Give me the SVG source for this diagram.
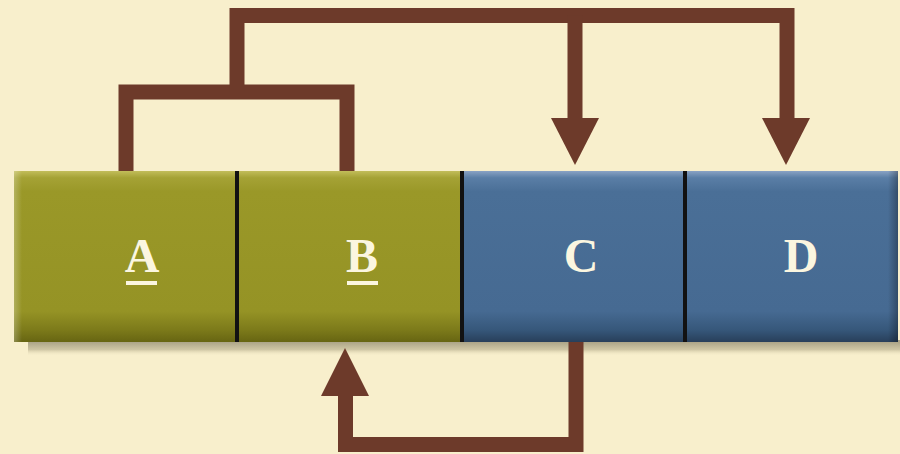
<svg xmlns="http://www.w3.org/2000/svg" width="900" height="454" viewBox="0 0 900 454">
<defs>
<linearGradient id="olive" x1="0" y1="0" x2="0" y2="1">
<stop offset="0" stop-color="#c2bd5a"/>
<stop offset="0.04" stop-color="#a5a235"/>
<stop offset="0.12" stop-color="#9a9828"/>
<stop offset="0.82" stop-color="#959325"/>
<stop offset="0.93" stop-color="#7c7a1a"/>
<stop offset="1" stop-color="#676512"/>
</linearGradient>
<linearGradient id="blue" x1="0" y1="0" x2="0" y2="1">
<stop offset="0" stop-color="#8aa3c4"/>
<stop offset="0.04" stop-color="#5a7ea6"/>
<stop offset="0.12" stop-color="#4a6f97"/>
<stop offset="0.82" stop-color="#466a92"/>
<stop offset="0.93" stop-color="#36577a"/>
<stop offset="1" stop-color="#283f5a"/>
</linearGradient>
<linearGradient id="shadow" x1="0" y1="0" x2="0" y2="1">
<stop offset="0" stop-color="#a39c80"/>
<stop offset="0.6" stop-color="#cfc6a4"/>
<stop offset="1" stop-color="#f8efcc" stop-opacity="0"/>
</linearGradient>
<linearGradient id="rightEdge" x1="0" y1="0" x2="1" y2="0">
<stop offset="0" stop-color="#000" stop-opacity="0"/>
<stop offset="1" stop-color="#000" stop-opacity="0.3"/>
</linearGradient>
<linearGradient id="leftEdge" x1="0" y1="0" x2="1" y2="0">
<stop offset="0" stop-color="#fff" stop-opacity="0.25"/>
<stop offset="1" stop-color="#fff" stop-opacity="0"/>
</linearGradient>
</defs>
<style>
.conn{fill:none;stroke:#6d3a2a;stroke-width:15;stroke-linejoin:miter;stroke-linecap:butt}
.head{fill:#6d3a2a}
.lbl{font-family:"Liberation Serif","Times New Roman",serif;font-weight:bold;font-size:48px;fill:#fbf6e0;text-anchor:middle}
.ul{fill:#fbf6e0}
.div{stroke:#121212;stroke-width:4}
</style>
<rect width="900" height="454" fill="#f8efcc"/>
<rect x="28" y="340" width="872" height="16" fill="url(#shadow)"/>
<g id="node-A">
<rect x="14" y="171" width="223" height="171" fill="url(#olive)"/>
<rect x="14" y="171" width="8" height="171" fill="url(#leftEdge)"/>
<text class="lbl" x="142" y="272">A</text>
<rect class="ul" x="126" y="281" width="31" height="4"/>
</g>
<g id="node-B">
<rect x="237" y="171" width="225" height="171" fill="url(#olive)"/>
<text class="lbl" x="362" y="272">B</text>
<rect class="ul" x="347" y="281" width="31" height="4"/>
</g>
<g id="node-C">
<rect x="462" y="171" width="223" height="171" fill="url(#blue)"/>
<text class="lbl" x="581" y="272">C</text>
</g>
<g id="node-D">
<rect x="685" y="171" width="213" height="171" fill="url(#blue)"/>
<rect x="888" y="171" width="10" height="171" fill="url(#rightEdge)"/>
<text class="lbl" x="801" y="272">D</text>
</g>
<g id="dividers">
<line class="div" x1="237" y1="171" x2="237" y2="342"/>
<line class="div" x1="462" y1="171" x2="462" y2="342"/>
<line class="div" x1="685" y1="171" x2="685" y2="342"/>
</g>
<g id="connectors">
<path class="conn" d="M126,171 V92 H347 V171"/>
<path class="conn" d="M237,92 V15.5 H787 V122"/>
<path class="conn" d="M575,15.5 V122"/>
<polygon class="head" points="551,118 599,118 575,165"/>
<polygon class="head" points="762,118 810,118 786,165"/>
<path class="conn" d="M576,342 V444.5 H345.5 V392"/>
<polygon class="head" points="321,396 369,396 345,348"/>
</g>
</svg>
